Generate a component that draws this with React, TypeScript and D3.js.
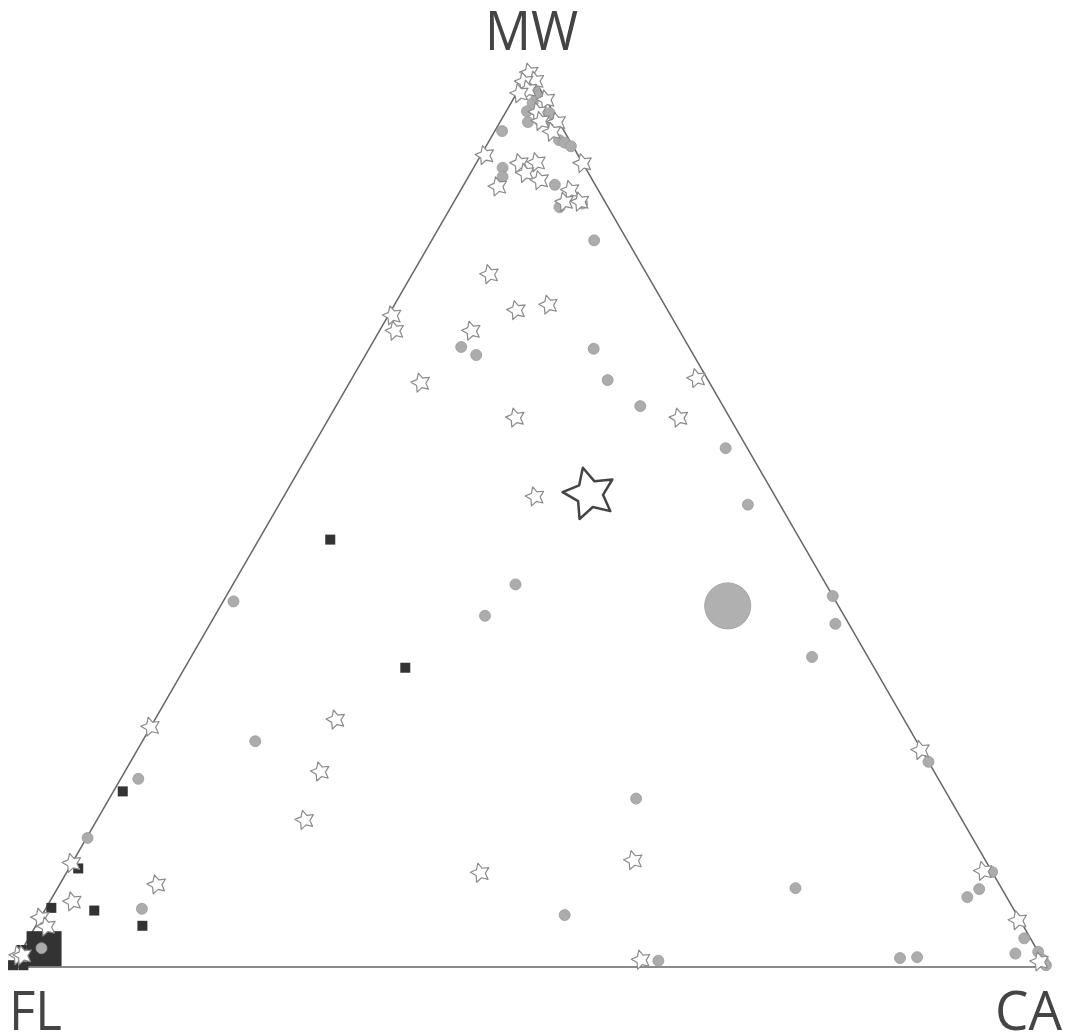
import React, { useEffect, useRef } from "react";
import * as d3 from "d3";

// ternary compositions in percent, each row is [MW, CA]; FL = 100 - MW - CA
const circlePts: [number, number][] = [
  [93.3, 0.7], [95.5, 2.0], [96.4, 2.1], [94.3, 2.7], [94.5, 3.7], [95.3, 4.3],
  [94.1, 5.2], [98.1, 1.4], [97.2, 2.1], [92.3, 6.7], [92.0, 7.4], [91.6, 8.2],
  [89.2, 2.8], [88.2, 3.3], [87.3, 8.8], [84.8, 10.5], [85.2, 12.5], [81.1, 15.7],
  [69.2, 8.8], [68.3, 10.7], [69.0, 21.7], [65.5, 24.8], [62.6, 29.4], [57.9, 40.0],
  [51.6, 45.3], [41.4, 58.6], [38.3, 60.4], [34.6, 60.0], [42.7, 27.3], [39.2, 26.1],
  [40.8, 1.0], [25.2, 10.9], [21.0, 1.7], [14.4, 0.1], [18.8, 50.9], [5.8, 50.5],
  [6.5, 9.3], [8.8, 71.3], [0.7, 62.1], [1.0, 85.3], [1.1, 86.9], [22.9, 77.1],
  [10.6, 89.4], [8.7, 89.1], [7.8, 88.4], [3.2, 96.2], [1.5, 96.2], [1.7, 98.3],
  [0.8, 99.2], [0.2, 99.8], [2.1, 1.8],
];

const starPts: [number, number][] = [
  [99.8, 0.1], [98.9, 1.1], [98.8, 0.1], [97.9, 0.9], [97.5, 0.3], [96.8, 3.2],
  [95.4, 3.1], [94.4, 3.9], [94.3, 5.5], [93.2, 5.6], [90.6, 0.4], [89.7, 4.2],
  [89.8, 5.8], [88.6, 5.3], [87.8, 7.1], [87.1, 3.4], [86.7, 10.6], [85.4, 10.7],
  [85.4, 12.2], [89.7, 10.3], [77.3, 7.5], [73.3, 12.1], [73.9, 14.9], [71.0, 8.9],
  [72.7, 0.4], [71.0, 1.5], [65.2, 6.9], [65.7, 33.3], [61.3, 33.8], [61.3, 18.0],
  [52.5, 24.3], [27.6, 17.5], [26.8, 0.0], [21.8, 18.9], [16.4, 20.1], [11.6, 0.0],
  [9.2, 9.4], [7.3, 2.2], [5.5, 0.0], [4.5, 1.1], [1.3, 0.0], [1.3, 0.4],
  [10.5, 40.0], [11.9, 54.1], [0.8, 60.4], [24.2, 75.7], [10.7, 88.5], [5.2, 94.6],
  [0.6, 99.0],
];

const squarePts: [number, number][] = [
  [47.7, 6.9], [33.4, 21.3], [19.6, 0.9], [11.0, 0.9], [6.6, 0.5], [6.3, 4.8],
  [4.6, 10.3], [0.2, 0.0], [0.2, 1.0], [1.9, 0.0],
];

const bigCircle: [number, number] = [40.3, 49.0];
const bigStar: [number, number] = [52.8, 29.4];
const bigSquare: [number, number] = [2.1, 2.0];

const apexLabels = ["MW", "FL", "CA"];

export default function App() {
  const ref = useRef<SVGSVGElement>(null);

  useEffect(() => {
    const svg = d3.select(ref.current);
    svg.selectAll("*").remove();

    // triangle: FL bottom-left, CA bottom-right, MW top
    const y = d3.scaleLinear().domain([0, 100]).range([967, 71]);
    const x = d3.scaleLinear().domain([0, 100]).range([12, 1047]);
    const px = (d: [number, number]) => x(d[1] + d[0] / 2);
    const py = (d: [number, number]) => y(d[0]);

    const corners: [number, number][] = [[100, 0], [0, 0], [0, 100]];
    svg.append("path")
      .attr("d", d3.line<[number, number]>().x(px).y(py).curve(d3.curveLinearClosed)(corners))
      .attr("fill", "none")
      .attr("stroke", "#666")
      .attr("stroke-width", 1.5);

    const starPath = (R: number, ratio: number, rot: number) =>
      d3.lineRadial<number>()
        .angle((i) => rot + (i * Math.PI) / 5)
        .radius((i) => (i % 2 ? R * ratio : R))
        .curve(d3.curveLinearClosed)(d3.range(10));

    // big square
    svg.append("rect")
      .attr("x", px(bigSquare) - 17)
      .attr("y", py(bigSquare) - 17)
      .attr("width", 35)
      .attr("height", 35)
      .attr("fill", "#333");

    svg.append("g")
      .selectAll("rect")
      .data(squarePts)
      .join("rect")
      .attr("x", (d) => px(d) - 5)
      .attr("y", (d) => py(d) - 5)
      .attr("width", 10)
      .attr("height", 10)
      .attr("fill", "#333");

    svg.append("g")
      .selectAll("circle")
      .data(circlePts)
      .join("circle")
      .attr("cx", px)
      .attr("cy", py)
      .attr("r", 5.5)
      .attr("fill", "#acacac")
      .attr("stroke", "#9a9a9a")
      .attr("stroke-width", 0.8);

    svg.append("g")
      .selectAll("path")
      .data(starPts)
      .join("path")
      .attr("transform", (d) => `translate(${px(d)},${py(d)})`)
      .attr("d", starPath(10, 0.5, -0.25))
      .attr("fill", "#fff")
      .attr("stroke", "#8a8a8a")
      .attr("stroke-width", 1.2)
      .attr("stroke-linejoin", "round");

    svg.append("circle")
      .attr("cx", px(bigCircle))
      .attr("cy", py(bigCircle))
      .attr("r", 23)
      .attr("fill", "#b0b0b0")
      .attr("stroke", "#a4a4a4");

    svg.append("path")
      .attr("transform", `translate(${px(bigStar)},${py(bigStar)})`)
      .attr("d", starPath(27, 0.5, -0.25))
      .attr("fill", "#fff")
      .attr("stroke", "#444")
      .attr("stroke-width", 2.5)
      .attr("stroke-linejoin", "round");

    // apex labels
    const labelPos = [
      { x: 485, y: 50, len: 93 },
      { x: 9, y: 1030, len: 53 },
      { x: 995, y: 1030, len: 67 },
    ];
    svg.append("g")
      .selectAll("text")
      .data(apexLabels)
      .join("text")
      .attr("x", (_, i) => labelPos[i].x)
      .attr("y", (_, i) => labelPos[i].y)
      .attr("textLength", (_, i) => labelPos[i].len)
      .attr("lengthAdjust", "spacingAndGlyphs")
      .attr("font-family", "'Open Sans', sans-serif")
      .attr("font-size", 55)
      .attr("fill", "#444")
      .text((d) => d);
  }, []);

  return (
    <svg
      ref={ref}
      width={1072}
      height={1035}
      style={{ position: "absolute", left: 0, top: 0, background: "#fff" }}
    ></svg>
  );
}
